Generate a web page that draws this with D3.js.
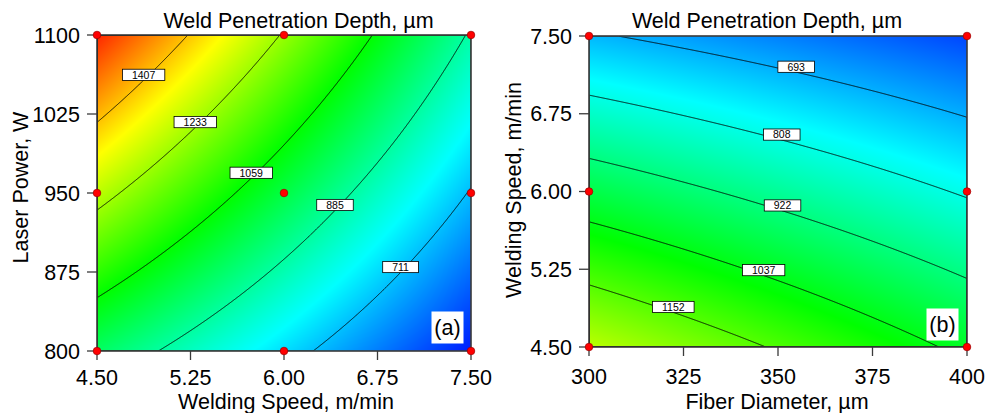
<!DOCTYPE html>
<html>
<head>
<meta charset="utf-8">
<script src="https://cdn.jsdelivr.net/npm/d3@7"></script>
<style>
  html, body { margin: 0; padding: 0; background: #fff; }
  svg { display: block; }
  text { font-family: "Liberation Sans", Arial, sans-serif; fill: #000; }
</style>
</head>
<body>
<svg id="chart" width="993" height="413"></svg>
<script>
// ---- data ----------------------------------------------------------------
const speedTicks = [4.50, 5.25, 6.00, 6.75, 7.50];   // welding speed, m/min
const powerTicks = [800, 875, 950, 1025, 1100];      // laser power, W
const fiberTicks = [300, 325, 350, 375, 400];        // fiber diameter, µm

// predicted penetration depth (µm) at the design levels
// (a) rows: power 800, 950, 1100 W; columns: speed 4.5, 6.0, 7.5 m/min
const depthA = [
  [953, 744, 530],
  [1267, 986, 705],
  [1580, 1225, 875]
];
// (b) rows: speed 4.5, 6.0, 7.5 m/min; columns: fiber 300, 350, 400 µm
const depthB = [
  [1266, 1144, 1018],
  [982, 893, 799],
  [702, 641, 576]
];

const levelsA = [711, 885, 1059, 1233, 1407];
const levelsB = [693, 808, 922, 1037, 1152];
// x value (in axis units) where each contour carries its label
const labelXA = [6.935, 6.409, 5.737, 5.288, 4.874];
const labelXB = [354.8, 351.0, 351.2, 346.2, 322.3];

// design points shown as dots
const designA = [[4.5, 800], [6.0, 800], [7.5, 800], [4.5, 950], [6.0, 950], [7.5, 950], [4.5, 1100], [6.0, 1100], [7.5, 1100]];
const designB = [[300, 4.5], [300, 6.0], [300, 7.5], [400, 4.5], [400, 6.0], [400, 7.5]];

// colour ramp for depth (µm)
const colourStops = [500, 780, 1060, 1340, 1620];
const colourRamp = ["#0000ff", "#00ffff", "#00ff00", "#ffff00", "#ff0000"];

// ---- helpers ---------------------------------------------------------------
const colour = d3.scaleLinear().domain(colourStops).range(colourRamp)
  .interpolate(d3.interpolateRgb).clamp(true);

// quadratic (three-level) surface through a 3x3 grid of values
function surface(grid, xDom, yDom) {
  const L = t => [t * (t - 1) / 2, 1 - t * t, t * (t + 1) / 2];
  return (x, y) => {
    const u = 2 * (x - xDom[0]) / (xDom[1] - xDom[0]) - 1;
    const v = 2 * (y - yDom[0]) / (yDom[1] - yDom[0]) - 1;
    const lu = L(u), lv = L(v);
    let s = 0;
    for (let j = 0; j < 3; j++)
      for (let i = 0; i < 3; i++) s += grid[j][i] * lu[i] * lv[j];
    return s;
  };
}

const svg = d3.select("#chart");
const BIG = "21.5px";

function panel(cfg) {
  const { left, right, top, bottom } = cfg.box;
  const w = right - left, h = bottom - top;
  const x = d3.scaleLinear().domain(d3.extent(cfg.xTicks)).range([left, right]);
  const y = d3.scaleLinear().domain(d3.extent(cfg.yTicks)).range([bottom, top]);
  const f = surface(cfg.grid, x.domain(), y.domain());
  const g = svg.append("g");

  // colour field
  const cw = Math.round(w), ch = Math.round(h);
  const canvas = document.createElement("canvas");
  canvas.width = cw; canvas.height = ch;
  const ctx = canvas.getContext("2d");
  const img = ctx.createImageData(cw, ch);
  for (let j = 0; j < ch; j++) {
    const yv = y.invert(top + (j + 0.5) * h / ch);
    for (let i = 0; i < cw; i++) {
      const xv = x.invert(left + (i + 0.5) * w / cw);
      const c = d3.rgb(colour(f(xv, yv)));
      const k = 4 * (j * cw + i);
      img.data[k] = c.r; img.data[k + 1] = c.g; img.data[k + 2] = c.b; img.data[k + 3] = 255;
    }
  }
  ctx.putImageData(img, 0, 0);
  g.append("image").attr("href", canvas.toDataURL())
    .attr("x", left).attr("y", top).attr("width", w).attr("height", h)
    .attr("preserveAspectRatio", "none");

  // contour lines
  const clipId = "clip-" + cfg.id;
  svg.append("clipPath").attr("id", clipId)
    .append("rect").attr("x", left).attr("y", top).attr("width", w).attr("height", h);
  const n = cw * 2, m = ch * 2;
  const values = new Float64Array(n * m);
  for (let j = 0; j < m; j++) {
    const yv = y.invert(top + (j + 0.5) * h / m);
    for (let i = 0; i < n; i++) values[i + j * n] = f(x.invert(left + (i + 0.5) * w / n), yv);
  }
  const toPx = d3.geoTransform({
    point(px, py) { this.stream.point(left + px * w / n, top + py * h / m); }
  });
  const path = d3.geoPath(toPx);
  g.append("g").attr("clip-path", `url(#${clipId})`)
    .selectAll("path")
    .data(d3.contours().size([n, m]).thresholds(cfg.levels)(values))
    .join("path")
    .attr("d", path).attr("fill", "none").attr("stroke", "#000").attr("stroke-width", 0.9);

  // frame
  g.append("rect").attr("x", left).attr("y", top).attr("width", w).attr("height", h)
    .attr("fill", "none").attr("stroke", "#3a3a3a").attr("stroke-width", 1.6);

  // axes
  const xAxis = g.append("g");
  xAxis.selectAll("line").data(cfg.xTicks).join("line")
    .attr("x1", d => x(d)).attr("x2", d => x(d)).attr("y1", bottom).attr("y2", bottom + 9)
    .attr("stroke", "#3a3a3a").attr("stroke-width", 1.3);
  xAxis.selectAll("text").data(cfg.xTicks).join("text")
    .attr("x", d => x(d)).attr("y", cfg.tickBase).attr("text-anchor", "middle")
    .style("font-size", BIG).text(cfg.xFmt);
  const yAxis = g.append("g");
  yAxis.selectAll("line").data(cfg.yTicks).join("line")
    .attr("x1", left - 10).attr("x2", left).attr("y1", d => y(d)).attr("y2", d => y(d))
    .attr("stroke", "#3a3a3a").attr("stroke-width", 1.3);
  yAxis.selectAll("text").data(cfg.yTicks).join("text")
    .attr("x", left - 17).attr("y", d => y(d)).attr("dy", "0.36em").attr("text-anchor", "end")
    .style("font-size", BIG).text(cfg.yFmt);

  // titles
  g.append("text").attr("x", cfg.titleX).attr("y", 28.3).attr("text-anchor", "middle")
    .style("font-size", BIG).text("Weld Penetration Depth, µm");
  g.append("text").attr("x", cfg.xLabelX).attr("y", 409).attr("text-anchor", "middle")
    .style("font-size", BIG).text(cfg.xLabel);
  g.append("text").attr("transform", `translate(${cfg.yLabelBase},${cfg.yLabelY}) rotate(-90)`)
    .attr("text-anchor", "middle").style("font-size", BIG).text(cfg.yLabel);

  // contour labels: box sits on the line where it crosses the label x
  cfg.levels.forEach((lev, idx) => {
    const xv = cfg.labelX[idx];
    let lo = y.domain()[0], hi = y.domain()[1];
    const sLo = Math.sign(f(xv, lo) - lev);
    for (let it = 0; it < 60; it++) {
      const mid = (lo + hi) / 2;
      if (Math.sign(f(xv, mid) - lev) === sLo) lo = mid; else hi = mid;
    }
    const cx = x(xv), ly = y((lo + hi) / 2);
    const cy = ly - 5.4;
    const lg = g.append("g");
    const rect = lg.append("rect");
    const t = lg.append("text").attr("x", cx).attr("y", cy).attr("dy", "0.36em")
      .attr("text-anchor", "middle").style("font-size", "10.5px").text(lev);
    const tw = t.node().getComputedTextLength() + 19;
    rect.attr("x", cx - tw / 2).attr("y", cy - 5.6).attr("width", tw).attr("height", 11.2)
      .attr("fill", "#fff").attr("stroke", "#000").attr("stroke-width", 0.8);
  });

  // design points
  g.append("g").selectAll("circle").data(cfg.design).join("circle")
    .attr("cx", d => x(d[0])).attr("cy", d => y(d[1])).attr("r", 3.8)
    .attr("fill", "#ff0000").attr("stroke", "#9a0000").attr("stroke-width", 0.7);

  // panel tag
  g.append("rect").attr("x", cfg.tag[1]).attr("y", cfg.tag[2]).attr("width", 32).attr("height", 32)
    .attr("fill", "#fff");
  g.append("text").attr("x", cfg.tag[1] + 16).attr("y", cfg.tag[2] + 16).attr("dy", "0.36em")
    .attr("text-anchor", "middle").style("font-size", BIG).text(cfg.tag[0]);
}

panel({
  id: "a",
  box: { left: 97, right: 471, top: 35, bottom: 351 },
  xTicks: speedTicks, yTicks: powerTicks, grid: depthA,
  levels: levelsA, labelX: labelXA, design: designA,
  xFmt: d3.format(".2f"), yFmt: d3.format("d"),
  xLabel: "Welding Speed, m/min", yLabel: "Laser Power, W",
  titleX: 298.5, xLabelX: 286, yLabelBase: 28, yLabelY: 187.5, tickBase: 384.5,
  tag: ["(a)", 431.5, 311.5]
});

panel({
  id: "b",
  box: { left: 589, right: 967, top: 36, bottom: 347 },
  xTicks: fiberTicks, yTicks: speedTicks, grid: depthB,
  levels: levelsB, labelX: labelXB, design: designB,
  xFmt: d3.format("d"), yFmt: d3.format(".2f"),
  xLabel: "Fiber Diameter, µm", yLabel: "Welding Speed, m/min",
  titleX: 767, xLabelX: 777, yLabelBase: 521, yLabelY: 190, tickBase: 383.5,
  tag: ["(b)", 926.5, 308.5]
});
</script>
</body>
</html>
